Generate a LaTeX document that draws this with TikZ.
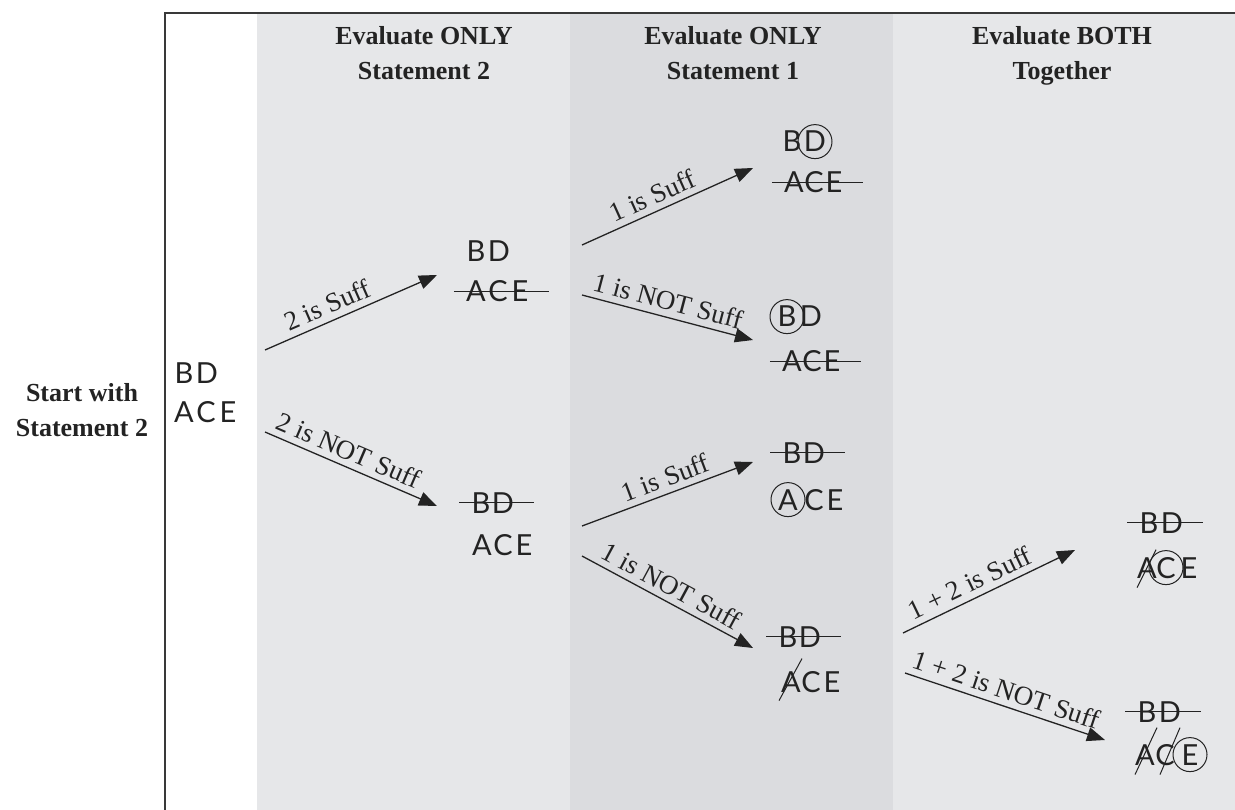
\documentclass[tikz,border=0pt]{standalone}
\usepackage{fontspec}
\setmainfont{Liberation Serif}
\newfontfamily\letfont{Lato}
\usetikzlibrary{arrows.meta}
\definecolor{bandA}{RGB}{230,231,233}
\definecolor{bandB}{RGB}{219,220,223}
\definecolor{ink}{RGB}{35,35,35}
\begin{document}
\begin{tikzpicture}[x=1pt,y=-1pt,
  lt/.style={font=\letfont\fontsize{29}{29}\selectfont, inner sep=0pt, text=ink, anchor=base},
  ring/.style={draw=ink, circle, line width=1pt, minimum size=34pt, inner sep=0pt},
  strike/.style={draw=ink, line width=1.6pt},
  slash/.style={draw=ink, line width=1pt},
  arr/.style={draw=ink, line width=1.3pt, -{Triangle[length=18pt,width=14pt]}},
  lab/.style={font=\fontsize{27}{27}\selectfont, sloped, above, inner xsep=2pt, inner ysep=6pt, text=ink},
  head/.style={font=\bfseries\fontsize{26}{35}\selectfont, align=center, text=ink, anchor=north},
  frame/.style={draw=ink!90, line width=2pt}
]
\useasboundingbox (0,0) rectangle (1235,810);
\fill[white] (0,0) rectangle (1235,810);
\fill[bandA] (257,13) rectangle (570,810);
\fill[bandB] (570,13) rectangle (893,810);
\fill[bandA] (893,13) rectangle (1235,810);
\draw[frame] (1235,13) -- (165,13) -- (165,810);

% headers
\node[head] (h1) at (424,23) {Evaluate ONLY\\Statement 2};
\node[head] (h2) at (733,23) {Evaluate ONLY\\Statement 1};
\node[head] (h3) at (1062,23) {Evaluate BOTH\\Together};
\node[head] (start) at (82,380) {Start with\\Statement 2};

% root
\node[lt] (r-B) at (184,384) {B};
\node[lt] (r-D) at (207,384) {D};
\node[lt] (r-A) at (184,423) {A};
\node[lt] (r-C) at (206,423) {C};
\node[lt] (r-E) at (228,423) {E};

% level 1 upper
\node[lt] (u-B) at (476,262) {B};
\node[lt] (u-D) at (499,262) {D};
\node[lt] (u-A) at (476,302) {A};
\node[lt] (u-C) at (498,302) {C};
\node[lt] (u-E) at (520,302) {E};
\draw[strike] ([xshift=-12pt]u-A.west) -- ([xshift=20pt]u-E.east);

% level 1 lower
\node[lt] (l-B) at (481,513) {B};
\node[lt] (l-D) at (503,513) {D};
\node[lt] (l-A) at (482,555) {A};
\node[lt] (l-C) at (503,555) {C};
\node[lt] (l-E) at (524,555) {E};
\draw[strike] ([xshift=-12pt]l-B.west) -- ([xshift=20pt]l-D.east);

% level 2 a
\node[lt] (a-B) at (792,152) {B};
\node[lt] (a-D) at (815,152) {D};
\node[ring] (a-ring) at (a-D.center) {};
\node[lt] (a-A) at (794,193) {A};
\node[lt] (a-C) at (814,193) {C};
\node[lt] (a-E) at (834,193) {E};
\draw[strike] ([xshift=-12pt]a-A.west) -- ([xshift=20pt]a-E.east);

% level 2 b
\node[lt] (b-B) at (787,327) {B};
\node[ring] (b-ring) at (b-B.center) {};
\node[lt] (b-D) at (811,327) {D};
\node[lt] (b-A) at (792,372) {A};
\node[lt] (b-C) at (812,372) {C};
\node[lt] (b-E) at (832,372) {E};
\draw[strike] ([xshift=-12pt]b-A.west) -- ([xshift=20pt]b-E.east);

% level 2 c
\node[lt] (c-B) at (792,463) {B};
\node[lt] (c-D) at (814,463) {D};
\draw[strike] ([xshift=-12pt]c-B.west) -- ([xshift=20pt]c-D.east);
\node[lt] (c-A) at (788,510) {A};
\node[ring] (c-ring) at (c-A.center) {};
\node[lt] (c-C) at (814,510) {C};
\node[lt] (c-E) at (835,510) {E};

% level 2 d
\node[lt] (d-B) at (788,647) {B};
\node[lt] (d-D) at (810,647) {D};
\draw[strike] ([xshift=-12pt]d-B.west) -- ([xshift=20pt]d-D.east);
\node[lt] (d-A) at (791,692) {A};
\node[lt] (d-C) at (811,692) {C};
\node[lt] (d-E) at (832,692) {E};
\draw[slash] ([shift={(-12,19)}]d-A.center) -- ([shift={(11,-23)}]d-A.center);

% level 3 a
\node[lt] (e-B) at (1149,533) {B};
\node[lt] (e-D) at (1172,533) {D};
\draw[strike] ([xshift=-12pt]e-B.west) -- ([xshift=20pt]e-D.east);
\node[lt] (e-A) at (1147,578) {A};
\node[lt] (e-C) at (1166,578) {C};
\node[lt] (e-E) at (1189,578) {E};
\node[ring] (e-ring) at (e-C.center) {};
\draw[slash] ([shift={(-10,20)}]e-A.center) -- ([shift={(9,-18)}]e-A.center);

% level 3 b
\node[lt] (f-B) at (1147,722) {B};
\node[lt] (f-D) at (1170,722) {D};
\draw[strike] ([xshift=-12pt]f-B.west) -- ([xshift=20pt]f-D.east);
\node[lt] (f-A) at (1145,765) {A};
\node[lt] (f-C) at (1165,765) {C};
\node[lt] (f-E) at (1190,765) {E};
\node[ring] (f-ring) at (f-E.center) {};
\draw[slash] ([shift={(-10,20)}]f-A.center) -- ([shift={(12,-27)}]f-A.center);
\draw[slash] ([shift={(-5,20)}]f-C.center) -- ([shift={(15,-27)}]f-C.center);

% arrow end points
\coordinate (r-o1) at (265,350);
\coordinate (r-o2) at (265,432);
\coordinate (u-in) at (437,275);
\coordinate (l-in) at (437,506);
\coordinate (u-o1) at (582,245);
\coordinate (u-o2) at (582,295);
\coordinate (l-o1) at (582,526);
\coordinate (l-o2) at (582,556);
\coordinate (a-in) at (753,168);
\coordinate (b-in) at (753,340);
\coordinate (c-in) at (753,462);
\coordinate (d-in) at (753,648);
\coordinate (d-o1) at (903,633);
\coordinate (d-o2) at (905,673);
\coordinate (e-in) at (1075,550);
\coordinate (f-in) at (1105,740);

\draw[arr] (r-o1) -- node[lab, pos=0.4] {2 is Suff} (u-in);
\draw[arr] (r-o2) -- node[lab, pos=0.45] {2 is NOT Suff} (l-in);
\draw[arr] (u-o1) -- node[lab, pos=0.45] {1 is Suff} (a-in);
\draw[arr] (u-o2) -- node[lab, pos=0.48] {1 is NOT Suff} (b-in);
\draw[arr] (l-o1) -- node[lab, pos=0.52] {1 is Suff} (c-in);
\draw[arr] (l-o2) -- node[lab, pos=0.48] {1 is NOT Suff} (d-in);
\draw[arr] (d-o1) -- node[lab, pos=0.43] {1 + 2 is Suff} (e-in);
\draw[arr] (d-o2) -- node[lab, pos=0.48] {1 + 2 is NOT Suff} (f-in);
\end{tikzpicture}
\end{document}
